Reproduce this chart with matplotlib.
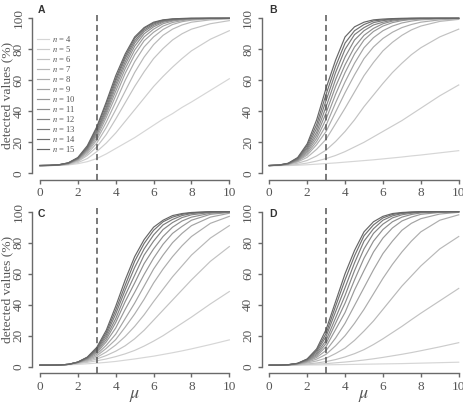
import numpy as np
import matplotlib
matplotlib.use("Agg")
from matplotlib import pyplot as plt

plt.rcParams['font.family'] = ['Liberation Serif', 'DejaVu Serif']
plt.rcParams['mathtext.fontset'] = 'stix'

mu = [0, 0.5, 1, 1.5, 2, 2.5, 3, 3.5, 4, 4.5, 5, 5.5, 6, 6.5, 7, 7.5, 8, 9, 10]
n_values = [4, 5, 6, 7, 8, 9, 10, 11, 12, 13, 14, 15]

# detected values (%) per panel, one row per n (4..15)
panel_a = [
    [5, 5, 5.1, 5.4, 6.2, 7.5, 9.5, 12.5, 16, 19.5, 23, 27, 31, 35, 38.5, 42.5, 46, 53.5, 61],
    [5, 5, 5.2, 5.7, 6.9, 9.5, 14, 19.5, 26, 33.5, 41, 48.5, 56, 62.5, 68.5, 74, 79, 86.5, 92],
    [5, 5, 5.2, 5.9, 7.6, 11.5, 17, 25, 35, 45.5, 56, 65.5, 74, 80.5, 86, 90, 93, 96.5, 98.5],
    [5, 5, 5.3, 6, 8.1, 12.5, 19.5, 29.5, 41, 53, 65, 75, 83, 89, 93, 95.7, 97.5, 99, 99.6],
    [5, 5.1, 5.3, 6.1, 8.6, 13.5, 21.5, 33, 46, 60, 72, 81.5, 88, 92.8, 96, 97.8, 98.8, 99.6, 100],
    [5, 5.1, 5.4, 6.2, 8.9, 14.3, 23, 36, 50, 64.5, 76.5, 85.5, 91, 95, 97.3, 98.5, 99.3, 99.8, 100],
    [5, 5.1, 5.4, 6.3, 9.1, 15, 24.5, 38, 53, 67.5, 79.5, 88, 93, 96.5, 98.2, 99.1, 99.6, 99.9, 100],
    [5, 5.1, 5.4, 6.4, 9.3, 15.5, 25.5, 39.5, 55.5, 70, 82, 90, 94.5, 97.4, 98.7, 99.4, 99.7, 100, 100],
    [5, 5.1, 5.5, 6.5, 9.5, 16, 26.5, 41, 57.5, 72, 84, 91.5, 95.5, 98, 99, 99.5, 99.8, 100, 100],
    [5, 5.1, 5.5, 6.6, 9.7, 16.5, 27.5, 42.5, 59.5, 74, 85.5, 92.5, 96.3, 98.4, 99.3, 99.7, 99.9, 100, 100],
    [5, 5.1, 5.5, 6.7, 9.9, 17, 29, 44.5, 61, 75.5, 87, 93.5, 97, 98.8, 99.5, 99.8, 100, 100, 100],
    [5, 5.1, 5.5, 6.8, 10.2, 17.8, 30, 46, 63, 77, 88, 94, 97.5, 99, 99.6, 99.9, 100, 100, 100],
]
panel_b = [
    [5, 5, 5, 5.2, 5.5, 5.9, 6.3, 6.7, 7.2, 7.7, 8.2, 8.7, 9.3, 9.9, 10.5, 11.2, 11.8, 13.2, 14.6],
    [5, 5, 5.2, 5.7, 6.6, 7.9, 9.5, 11.5, 14, 17, 20, 23.5, 27, 30.5, 34, 38, 42, 50, 57],
    [5, 5.1, 5.5, 6.5, 8.3, 11.2, 15, 20.5, 27, 34.5, 43, 50.5, 58, 65, 71, 76.5, 81, 88, 93],
    [5, 5.1, 5.7, 7.3, 10.3, 15.5, 22, 32, 42, 52.5, 63, 71.5, 79, 84.5, 89, 92.5, 95, 98, 99.3],
    [5, 5.2, 5.8, 7.8, 11.7, 18.5, 27, 39.5, 52, 63.5, 74, 81.5, 87, 91, 94, 96, 97.5, 99, 99.6],
    [5, 5.2, 5.9, 8.1, 12.7, 20.5, 31, 45.5, 59, 71, 81, 87.5, 92, 95, 97, 98.2, 99, 99.6, 100],
    [5, 5.2, 6, 8.4, 13.7, 22.5, 35, 51, 65, 77, 86, 91.5, 95, 97.2, 98.5, 99.2, 99.5, 99.9, 100],
    [5, 5.2, 6.1, 8.7, 14.7, 24.5, 39, 56, 70, 81.5, 89, 93.5, 96.5, 98.2, 99, 99.5, 99.8, 100, 100],
    [5, 5.2, 6.2, 9, 15.7, 26.5, 43, 60.5, 75, 86, 92, 95.7, 97.5, 98.8, 99.5, 99.8, 100, 100, 100],
    [5, 5.3, 6.3, 9.4, 16.7, 29, 47, 65, 80, 89.5, 94, 97.2, 98.5, 99.3, 99.7, 99.9, 100, 100, 100],
    [5, 5.3, 6.4, 9.8, 17.9, 31.5, 51, 69, 84, 92, 96, 98.3, 99, 99.6, 99.8, 100, 100, 100, 100],
    [5, 5.3, 6.5, 10.2, 19, 34.5, 55, 73, 88, 94.5, 97.5, 99, 99.5, 99.8, 100, 100, 100, 100, 100],
]
panel_c = [
    [1, 1, 1.05, 1.2, 1.5, 1.9, 2.3, 2.8, 3.4, 4.2, 5, 5.9, 6.8, 7.9, 9, 10.2, 11.5, 14.3, 17.3],
    [1, 1, 1.1, 1.4, 2, 2.8, 3.8, 5, 6.5, 8.3, 10.5, 13.3, 16.5, 20, 24, 28, 32, 40.5, 48.5],
    [1, 1, 1.1, 1.5, 2.3, 3.4, 5, 7.2, 10, 13.5, 18, 23.5, 30, 36.5, 43, 49.5, 56, 68, 77.5],
    [1, 1, 1.1, 1.5, 2.5, 3.9, 6, 9.5, 14, 19.5, 26, 33.5, 42, 50, 58, 65, 72, 83, 91],
    [1, 1, 1.1, 1.5, 2.6, 4.3, 7, 11.8, 17.5, 25.5, 34, 43.5, 54, 63, 71, 78, 84, 92.5, 97],
    [1, 1, 1.1, 1.5, 2.7, 4.7, 8, 13.8, 21, 31, 41, 52, 63, 72, 80, 86, 91, 96.5, 99],
    [1, 1, 1.1, 1.5, 2.8, 5, 9, 16, 25, 37, 48, 59.5, 70, 79, 86, 90.5, 94.5, 98.3, 99.5],
    [1, 1, 1.1, 1.5, 2.8, 5.2, 9.8, 17.5, 28.5, 42, 54, 66.5, 76, 84, 90, 94, 96.5, 99, 99.8],
    [1, 1, 1.1, 1.5, 2.9, 5.5, 10.5, 19, 31, 46, 59, 72, 81, 88.5, 93, 96.2, 98, 99.5, 100],
    [1, 1, 1.1, 1.5, 2.9, 5.8, 11.2, 20.5, 34, 49.5, 64, 76, 85, 91.5, 95, 97.5, 98.8, 99.8, 100],
    [1, 1, 1.1, 1.5, 3, 6, 11.8, 22, 36.5, 52.5, 68, 79.5, 88, 93.5, 96.5, 98.3, 99.3, 100, 100],
    [1, 1, 1.1, 1.5, 3, 6.2, 12.5, 23.5, 39, 56, 71, 82, 90, 94.5, 97.5, 98.8, 99.5, 100, 100],
]
panel_d = [
    [1, 1, 1.02, 1.05, 1.1, 1.15, 1.2, 1.3, 1.4, 1.5, 1.6, 1.7, 1.8, 1.9, 2.0, 2.15, 2.3, 2.6, 2.9],
    [1, 1, 1.05, 1.2, 1.4, 1.7, 2, 2.5, 3, 3.6, 4.3, 5.1, 6, 7, 8, 9.1, 10.3, 12.8, 15.5],
    [1, 1, 1.05, 1.3, 1.8, 2.4, 3.3, 4.6, 6.3, 8.4, 11, 14.3, 18, 22, 26, 30.3, 34.5, 42.5, 50.5],
    [1, 1, 1.1, 1.5, 2.4, 3.7, 5.5, 8.5, 12, 17, 23, 29.5, 37, 44.5, 52, 58.5, 65, 76, 84],
    [1, 1, 1.1, 1.6, 2.9, 4.9, 8, 13.5, 20, 28, 37, 47, 57, 66, 74, 81, 87, 94.5, 98],
    [1, 1, 1.15, 1.8, 3.3, 6, 10.5, 18.5, 28, 39.5, 51, 62.5, 73, 81, 88, 92.5, 95.5, 98.5, 99.6],
    [1, 1, 1.2, 1.9, 3.6, 6.9, 13, 24, 35, 49.5, 62, 74, 83, 89.5, 94, 96.5, 98.3, 99.5, 100],
    [1, 1, 1.2, 2, 3.9, 7.7, 15, 28, 41, 56, 70, 81, 88.5, 93.5, 96.5, 98.2, 99.2, 99.8, 100],
    [1, 1, 1.25, 2.05, 4.2, 8.6, 17, 31.5, 46, 62, 76, 86, 92, 96, 98, 99, 99.6, 100, 100],
    [1, 1, 1.25, 2.1, 4.5, 9.6, 19.5, 35.5, 51, 67, 81, 89, 94.5, 97.3, 98.8, 99.4, 99.8, 100, 100],
    [1, 1, 1.3, 2.15, 4.8, 10.6, 21.5, 39, 56, 71.5, 84.5, 91.5, 96, 98.2, 99.2, 99.7, 100, 100, 100],
    [1, 1, 1.3, 2.2, 5, 11.5, 24, 42, 60, 75, 87, 93.5, 97, 98.8, 99.5, 99.8, 100, 100, 100],
]

panels = [panel_a, panel_b, panel_c, panel_d]
letters = ['A', 'B', 'C', 'D']
mu_cut = 3

W, H = 463, 408
fig = plt.figure(figsize=(W / 100, H / 100), dpi=100)

# axes boxes in pixels: left, top, right, bottom
boxes = [(32.4, 12.1, 236.9, 179.5), (261.7, 12.1, 466.3, 179.5),
         (32.4, 205.5, 236.9, 372.9), (261.7, 205.5, 466.3, 372.9)]
letter_pos = [(38, 13), (269, 13), (38, 217), (269, 217)]

greys = np.linspace(0.84, 0.40, len(n_values))
axis_col = '#6a6a6a'
text_col = '#555555'

for k, data in enumerate(panels):
    l, t, r, b = boxes[k]
    ax = fig.add_axes([l / W, 1 - b / H, (r - l) / W, (b - t) / H])
    for i, n in enumerate(n_values):
        g = greys[i]
        ax.plot(mu, data[i], color=(g, g, g), lw=0.85, label='$n$ = %d' % n)
    ax.axvline(mu_cut, color='#555555', lw=1.1, dashes=(4, 2.5))
    ax.set_xlim(-0.4, 10.4)
    ax.set_ylim(-4, 104)
    ax.set_xticks([0, 2, 4, 6, 8, 10])
    ax.set_yticks([0, 20, 40, 60, 80, 100])
    for s in ['top', 'right']:
        ax.spines[s].set_visible(False)
    ax.spines['left'].set_bounds(0, 100)
    ax.spines['bottom'].set_bounds(0, 10)
    for s in ['left', 'bottom']:
        ax.spines[s].set_color(axis_col)
        ax.spines[s].set_linewidth(1.0)
    ax.tick_params(direction='out', length=3, width=1.0, color=axis_col,
                   labelcolor=text_col, labelsize=9.5, pad=2.5)
    plt.setp(ax.get_yticklabels(), rotation=90, va='center')
    ax.patch.set_visible(False)

    if k % 2 == 0:
        ax.set_ylabel('detected values (%)', fontsize=9.7, color=text_col)
        ax.yaxis.set_label_coords((13 - l) / (r - l), 0.5)
    if k >= 2:
        ax.set_xlabel(r'$\mu$', fontsize=13, color=text_col, va='top')
        ax.xaxis.set_label_coords(0.5, (b - 387) / (b - t))
    if k == 0:
        ax.legend(loc='upper left', bbox_to_anchor=(36.7 / W, 1 - 33.8 / H),
                  bbox_transform=fig.transFigure, frameon=False, fontsize=6.2,
                  handlelength=1.4, handletextpad=0.35, labelspacing=0.0,
                  borderpad=0, borderaxespad=0, labelcolor=text_col)

    lx, ly = letter_pos[k]
    fig.text(lx / W, 1 - ly / H, letters[k], fontsize=7.5, fontweight='bold',
             family='Liberation Sans', color='#333333', va='baseline')

fig.savefig('out.png', dpi=100)
